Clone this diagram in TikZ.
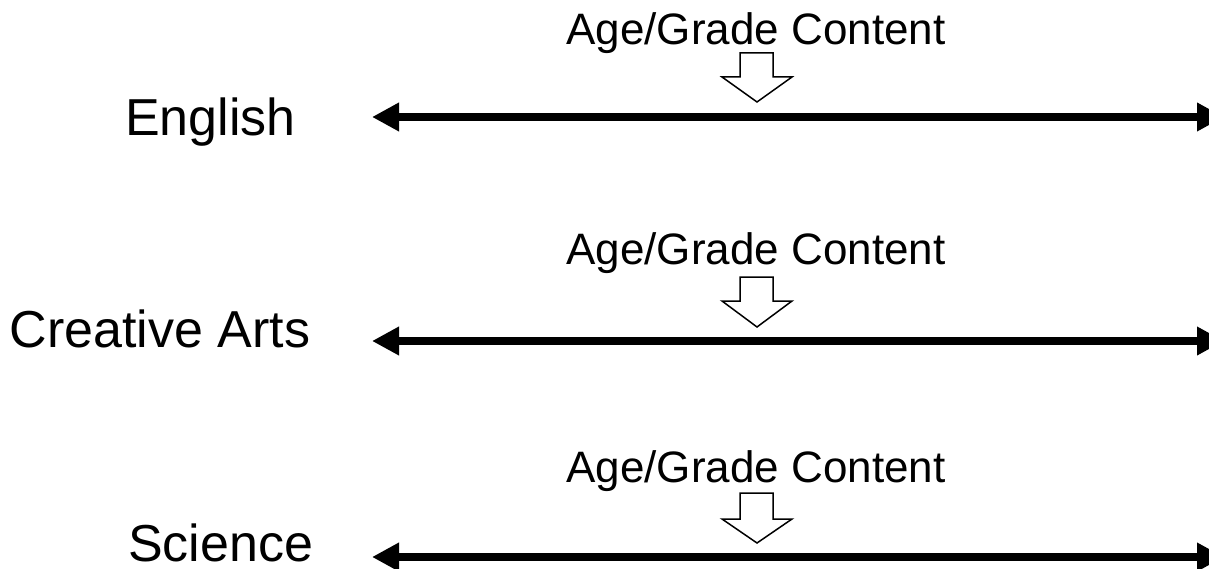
\documentclass[tikz,border=0pt]{standalone}
\usepackage{fontspec}
\setmainfont{Liberation Sans}
\usetikzlibrary{arrows.meta}
\begin{document}
\begin{tikzpicture}[x=1pt,y=-1pt,
  subject/.style={inner sep=0pt,anchor=base,text depth=0pt,font=\fontsize{52}{60}\selectfont},
  agelabel/.style={inner sep=0pt,anchor=base,font=\fontsize{44}{52}\selectfont},
  twoway/.style={line width=8pt,{Triangle[length=27pt,width=27pt]}-{Triangle[length=27pt,width=27pt]}},
  blockarrow/.style={draw=black,fill=white,line width=1.5pt,line join=miter}]
\useasboundingbox (0,0) rectangle (1209,569);
\clip (0,0) rectangle (1209,569);
% labels
\node[subject] (english) at (210.5,136) {English};
\node[subject] (arts) at (160,347) {Creative Arts};
\node[subject] (science) at (220.5,561) {Science};
\node[agelabel] (age1) at (756,45) {Age/Grade Content};
\node[agelabel] (age2) at (756,265) {Age/Grade Content};
\node[agelabel] (age3) at (756,482) {Age/Grade Content};
% double-headed lines
\coordinate (l1a) at (372,117); \coordinate (l1b) at (1224,117);
\coordinate (l2a) at (372,341); \coordinate (l2b) at (1224,341);
\coordinate (l3a) at (372,557); \coordinate (l3b) at (1224,557);
\draw[twoway] (l1a) -- (l1b);
\draw[twoway] (l2a) -- (l2b);
\draw[twoway] (l3a) -- (l3b);
% block arrows
\foreach \t/\hb/\tp in {53/77/102, 277/301/327, 493/519/543}{
  \draw[blockarrow] (740,\t) -- (773,\t) -- (773,\hb) -- (792,\hb) -- (757,\tp)
    -- (722,\hb) -- (740,\hb) -- cycle;
}
\end{tikzpicture}
\end{document}
